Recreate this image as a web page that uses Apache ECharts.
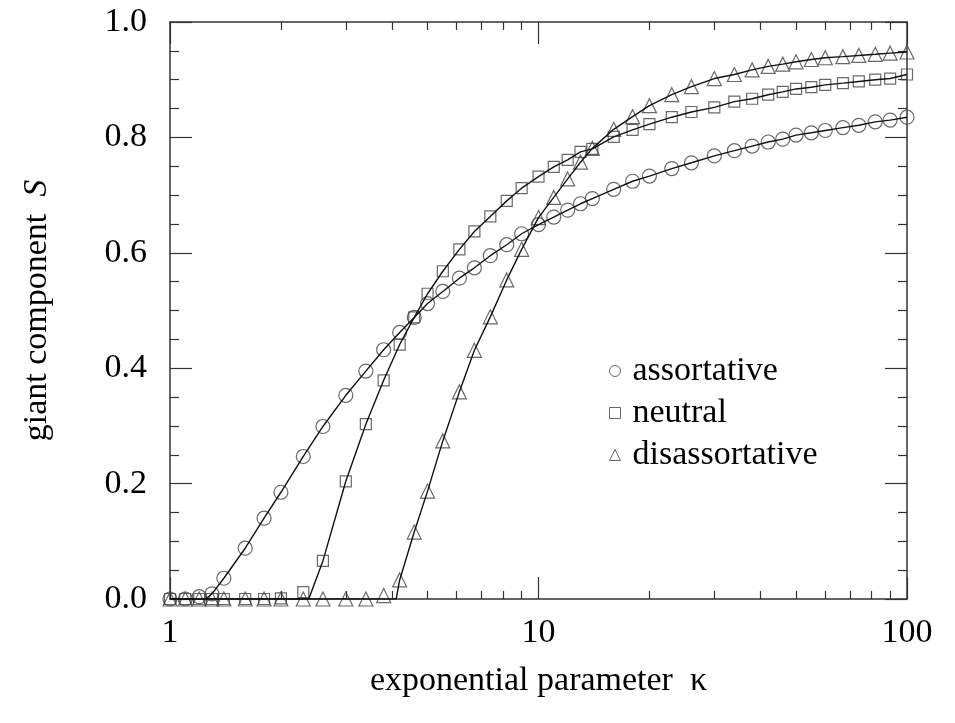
<!DOCTYPE html>
<html>
<head>
<meta charset="utf-8">
<script src="https://cdn.jsdelivr.net/npm/echarts@6/dist/echarts.min.js"></script>
<style>
  html, body { margin: 0; padding: 0; background: #fff; }
  #chart { width: 955px; height: 723px; }
</style>
</head>
<body>
<div id="chart"></div>
<script>
// exponential parameter kappa (shared by all three series)
const kappa = [1.0, 1.1, 1.2, 1.3, 1.4, 1.6, 1.8, 2.0, 2.3, 2.6,
               3.0, 3.4, 3.8, 4.2, 4.6, 5.0, 5.5, 6.1, 6.7, 7.4,
               8.2, 9.0, 10, 11, 12, 13, 14, 16, 18, 20,
               23, 26, 30, 34, 38, 42, 46, 50, 55, 60,
               67, 74, 82, 90, 100];
// giant component S
const assortative = [0.000, 0.000, 0.004, 0.009, 0.036, 0.088, 0.140, 0.185, 0.247, 0.299,
                     0.353, 0.395, 0.432, 0.462, 0.488, 0.512, 0.533, 0.556, 0.574, 0.595,
                     0.614, 0.633, 0.649, 0.662, 0.674, 0.685, 0.694, 0.710, 0.724, 0.733,
                     0.746, 0.756, 0.768, 0.777, 0.785, 0.792, 0.797, 0.804, 0.808, 0.812,
                     0.817, 0.821, 0.827, 0.830, 0.835];
const neutral = [0.000, 0.000, 0.000, 0.000, 0.000, 0.000, 0.000, 0.001, 0.012, 0.066,
                 0.204, 0.303, 0.379, 0.441, 0.488, 0.529, 0.568, 0.606, 0.637, 0.663,
                 0.690, 0.712, 0.732, 0.749, 0.761, 0.775, 0.780, 0.801, 0.813, 0.823,
                 0.835, 0.844, 0.852, 0.862, 0.867, 0.874, 0.879, 0.884, 0.887, 0.891,
                 0.894, 0.897, 0.900, 0.902, 0.909];
const disassortative = [0.000, 0.000, 0.000, 0.000, 0.000, 0.000, 0.000, 0.000, 0.000, 0.000,
                        0.000, 0.000, 0.006, 0.033, 0.116, 0.187, 0.274, 0.359, 0.431, 0.489,
                        0.553, 0.606, 0.661, 0.696, 0.728, 0.757, 0.781, 0.814, 0.836, 0.855,
                        0.874, 0.888, 0.902, 0.909, 0.917, 0.923, 0.927, 0.931, 0.935, 0.938,
                        0.940, 0.942, 0.944, 0.946, 0.948];
// percolation thresholds where the theory curves leave zero
const thresholds = [1.25, 2.38, 4.11];
const seriesNames = ['assortative', 'neutral', 'disassortative'];
const xTickLabels = ['1', '10', '100'];
const yTickLabels = ['0.0', '0.2', '0.4', '0.6', '0.8', '1.0'];

const FONT = 'Liberation Serif';
const symbols = ['circle', 'rect', 'triangle'];
const symbolSizes = [14, 11, 14];
const dataSets = [assortative, neutral, disassortative];

function points(ys) { return kappa.map((k, i) => [k, ys[i]]); }
function curve(ys, kc) {
  return [[kappa[0], 0], [kc, 0]].concat(points(ys).filter(p => p[0] > kc));
}

const series = [];
dataSets.forEach((ys, i) => {
  series.push({
    name: seriesNames[i] + ' theory',
    type: 'line',
    data: curve(ys, thresholds[i]),
    showSymbol: false,
    smooth: false,
    lineStyle: { color: '#111', width: 1.4 },
    z: 3,
    silent: true
  });
  series.push({
    name: seriesNames[i],
    type: 'scatter',
    data: points(ys),
    symbol: symbols[i],
    symbolSize: symbolSizes[i],
    clip: false,
    itemStyle: { color: 'transparent', borderColor: '#444', borderWidth: 1.2 },
    z: 2
  });
});

const tickStyle = { color: '#333', width: 1.2 };
const axisLine = { show: true, onZero: false, lineStyle: { color: '#333', width: 1.5 } };

function xAxisDef(pos, labels) {
  return {
    type: 'log', logBase: 10, min: 1, max: 100, position: pos,
    axisLine: axisLine,
    axisTick: { show: true, inside: true, length: 22, lineStyle: tickStyle },
    minorTick: { show: true, splitNumber: 9, length: 8, lineStyle: tickStyle },
    splitLine: { show: false },
    axisLabel: {
      show: labels, margin: 17, color: '#000', fontFamily: FONT, fontSize: 34,
      formatter: v => {
        const idx = Math.round(Math.log10(v));
        return xTickLabels[idx] !== undefined ? xTickLabels[idx] : '';
      }
    }
  };
}
function yAxisDef(pos, labels) {
  return {
    type: 'value', min: 0, max: 1, interval: 0.2, position: pos,
    axisLine: axisLine,
    axisTick: { show: true, inside: true, length: 22, lineStyle: tickStyle },
    minorTick: { show: true, splitNumber: 4, length: 9, lineStyle: tickStyle },
    splitLine: { show: false },
    axisLabel: {
      show: labels, margin: 23, color: '#000', fontFamily: FONT, fontSize: 34,
      formatter: v => yTickLabels[Math.round(v / 0.2)]
    }
  };
}

const xMain = xAxisDef('bottom', true);
xMain.name = 'exponential parameter  \u03ba';
xMain.nameLocation = 'middle';
xMain.nameGap = 65;
xMain.nameTextStyle = { fontFamily: FONT, fontSize: 34, color: '#000' };

const yMain = yAxisDef('left', true);
yMain.name = '{a|giant component}  {b|S}';
yMain.nameLocation = 'middle';
yMain.nameGap = 116;
yMain.nameTextStyle = {
  fontFamily: FONT, fontSize: 34, color: '#000',
  rich: {
    a: { fontFamily: FONT, fontSize: 34, color: '#000' },
    b: { fontFamily: FONT, fontSize: 34, color: '#000', fontStyle: 'italic' }
  }
};

const option = {
  backgroundColor: '#fff',
  animation: false,
  grid: { left: 170, top: 22, right: 48, bottom: 124, containLabel: false },
  xAxis: [xMain, xAxisDef('top', false)],
  yAxis: [yMain, yAxisDef('right', false)],
  legend: {
    orient: 'vertical', left: 604, top: 349,
    itemWidth: 11, itemHeight: 11, itemGap: 8,
    textStyle: { fontFamily: FONT, fontSize: 34, color: '#000', padding: [0, 0, 0, 7] },
    itemStyle: { color: 'transparent', borderColor: '#444', borderWidth: 1 },
    data: [
      { name: seriesNames[0], icon: 'circle' },
      { name: seriesNames[1], icon: 'rect' },
      { name: seriesNames[2], icon: 'triangle' }
    ]
  },
  series: series
};

const chart = echarts.init(document.getElementById('chart'));
chart.setOption(option);
</script>
</body>
</html>
